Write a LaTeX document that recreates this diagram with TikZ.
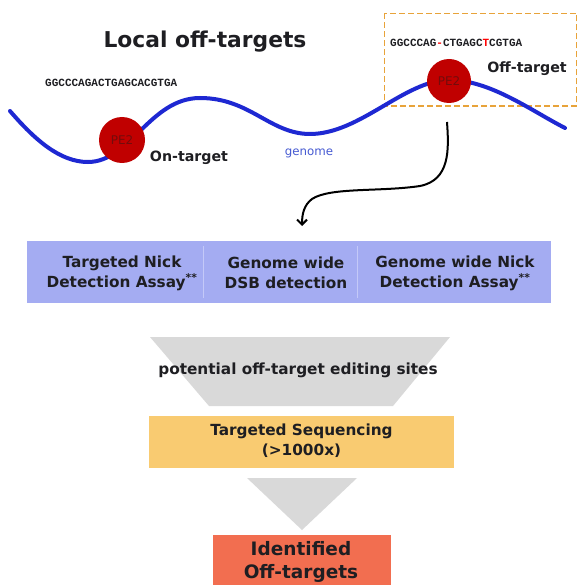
\documentclass[tikz,border=0pt]{standalone}
\usepackage{fontspec}
\setmainfont{DejaVu Sans}
\newfontfamily\seqfont{Liberation Mono}
\usetikzlibrary{arrows.meta}
\definecolor{dnablue}{RGB}{30,40,210}
\definecolor{pered}{RGB}{192,0,0}
\definecolor{petext}{RGB}{115,12,12}
\definecolor{dashorange}{RGB}{232,163,58}
\definecolor{assayblue}{RGB}{164,172,242}
\definecolor{divline}{RGB}{196,201,248}
\definecolor{funnelgray}{RGB}{217,217,217}
\definecolor{seqorange}{RGB}{249,203,113}
\definecolor{idred}{RGB}{242,110,80}
\definecolor{txt}{RGB}{30,30,34}
\definecolor{genomeblue}{RGB}{70,90,210}
\tikzset{
  pecircle/.style={circle, fill=pered, minimum size=46pt, inner sep=0pt, text=petext, font=\fontsize{12}{14}\selectfont},
  seqtext/.style={inner sep=0pt, text=txt, font=\seqfont\bfseries\fontsize{11}{13}\selectfont},
  label14/.style={inner sep=0pt, text=txt, font=\bfseries\fontsize{14.2}{17}\selectfont},
  assaytext/.style={inner sep=0pt, align=center, text=txt, font=\bfseries\fontsize{15.3}{20}\selectfont},
}
\begin{document}
\begin{tikzpicture}[x=1pt,y=-1pt]
\useasboundingbox (0,0) rectangle (578,585);
\clip (0,0) rectangle (578,585);
\fill[white] (0,0) rectangle (578,585);

% title
\node[anchor=base, inner sep=0pt, text=txt, font=\bfseries\fontsize{21.8}{26}\selectfont] (title) at (205,48) {Local off-targets};

% dashed off-target box
\draw[dashorange, line width=1.6pt, dash pattern=on 6pt off 3pt] (384.5,13.5) rectangle (576.5,106);

% genome strand
\draw[dnablue, line width=4pt, line cap=round]
  (10,111) .. controls (35,140) and (60,162) .. (88,162)
           .. controls (130,162) and (150,98) .. (200,98)
           .. controls (250,98) and (270,134) .. (310,134)
           .. controls (360,134) and (405,80) .. (449,80)
           .. controls (490,80) and (530,110) .. (565,128);

% sequences
\node[seqtext, anchor=west] (seq1) at (45,83) {GGCCCAGACTGAGCACGTGA};
\node[seqtext, anchor=west] (seq2) at (390,43) {GGCCCAG{\color{red}-}CTGAGC{\color{red}T}CGTGA};

% PE2 circles
\node[pecircle] (pe1) at (122,140) {PE2};
\node[pecircle, minimum size=44pt] (pe2) at (449,81) {PE2};

% labels
\node[label14] (ontext) at (189,158) {On-target};
\node[label14] (offtext) at (527,69) {Off-target};
\node[inner sep=0pt, text=genomeblue, font=\fontsize{11.8}{14}\selectfont] (genome) at (309,153) {genome};

% curved arrow
\coordinate (arrS) at (447,122);
\coordinate (arrE) at (302,226);
\draw[black, line width=2pt, -{Straight Barb[length=5pt,width=10pt]}]
  (arrS) .. controls (449,150) and (450,180) .. (420,186)
         .. controls (380,192) and (330,187) .. (312,199)
         .. controls (304,205) and (302,214) .. (arrE);

% assay box
\fill[assayblue] (27,241) rectangle (551,303);
\draw[divline, line width=1pt] (203,246) -- (203,298);
\draw[divline, line width=1pt] (357,246) -- (357,298);
\node[assaytext] (a1) at (122,273) {Targeted Nick\\Detection Assay\textsuperscript{**}};
\node[assaytext] (a2) at (286,273) {Genome wide\\DSB detection};
\node[assaytext] (a3) at (455,273) {Genome wide Nick\\Detection Assay\textsuperscript{**}};

% funnel
\fill[funnelgray] (150,337) -- (450,337) -- (393,406) -- (209,406) -- cycle;
\node[assaytext] (pot) at (298,370) {potential off-target editing sites};

% targeted sequencing
\fill[seqorange] (149,416) rectangle (454,468);
\node[assaytext] (tseq) at (301.5,441) {Targeted Sequencing\\(>1000x)};

% second triangle
\fill[funnelgray] (247,478) -- (357,478) -- (302,530) -- cycle;

% identified
\fill[idred] (213,535) rectangle (391,600);
\node[inner sep=0pt, align=center, text=txt, font=\bfseries\fontsize{18.5}{23}\selectfont] (ident) at (301,561.5) {Identified\\Off-targets};
\end{tikzpicture}
\end{document}
